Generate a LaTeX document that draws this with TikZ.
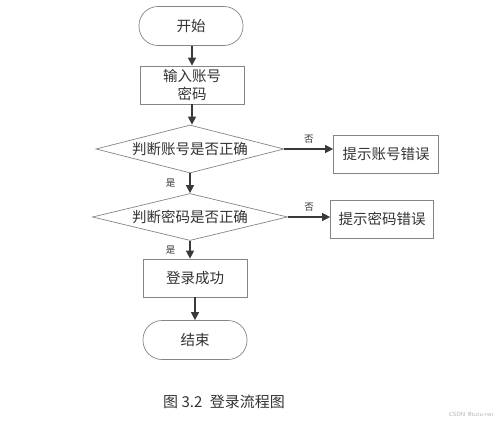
\documentclass[tikz,border=0pt]{standalone}
\usepackage{fontspec}
\setmainfont{Liberation Serif}
\newfontfamily\cjk{Noto Sans CJK SC}
\usetikzlibrary{shapes.geometric,arrows.meta}
\definecolor{shapeline}{HTML}{858585}
\definecolor{arrowline}{HTML}{3A3A3A}
\tikzset{
  base/.style={draw=shapeline, line width=0.7pt, font=\cjk\fontsize{14.5}{18}\selectfont, text=black!80, inner sep=0pt, align=center},
  terminal/.style={base, rectangle, rounded corners=19pt, minimum width=104pt, minimum height=39pt},
  procbox/.style={base, rectangle, minimum width=104pt, minimum height=38pt},
  decision/.style={base, diamond, aspect=4, minimum width=188pt, minimum height=48pt},
  flow/.style={draw=arrowline, line width=1.3pt, -{Triangle[length=8pt,width=8pt]}},
  lbl/.style={font=\cjk\fontsize{9.5}{11}\selectfont, text=black!80, inner sep=0pt}
}
\begin{document}
\begin{tikzpicture}[x=1pt,y=-1pt]
\useasboundingbox[fill=white] (0,0) rectangle (499,426);
\node[terminal] (start) at (191,26) {开始};
\node[procbox] (input) at (192,85) {输入账号\\密码};
\node[decision] (d1) at (190,149) {判断账号是否正确};
\node[procbox, minimum width=105pt] (e1) at (386,154) {提示账号错误};
\node[decision, minimum width=195pt, minimum height=47pt] (d2) at (190,217) {判断密码是否正确};
\node[procbox, minimum width=103pt] (e2) at (382,219) {提示密码错误};
\node[procbox] (ok) at (195,278) {登录成功};
\node[terminal] (end) at (195,340) {结束};
\node[font=\cjk\fontsize{15}{18}\selectfont, text=black!80] (cap) at (224,402) {图 3.2\hspace{0.5em}登录流程图};
\node[font=\sffamily\fontsize{6}{7}\selectfont, text=black!30, anchor=east] (wm) at (497,414) {CSDN @tutu-ren};

\draw[flow] (start.south -| input.north) -- (input.north);
\draw[flow] (input.south) -- (input.south |- d1.north);
\draw[flow] (d1.east) -- (d1.east -| e1.west) node[lbl, midway, above=5pt] (n1) {否};
\draw[flow] (d1.south) -- (d1.south |- d2.north) node[lbl, midway, left=14pt] (y1) {是};
\draw[flow] (d2.east) -- (d2.east -| e2.west) node[lbl, midway, above=5pt] (n2) {否};
\draw[flow] (d2.south) -- (d2.south |- ok.north) node[lbl, midway, left=14pt] (y2) {是};
\draw[flow] (ok.south) -- (end.north);
\end{tikzpicture}
\end{document}
